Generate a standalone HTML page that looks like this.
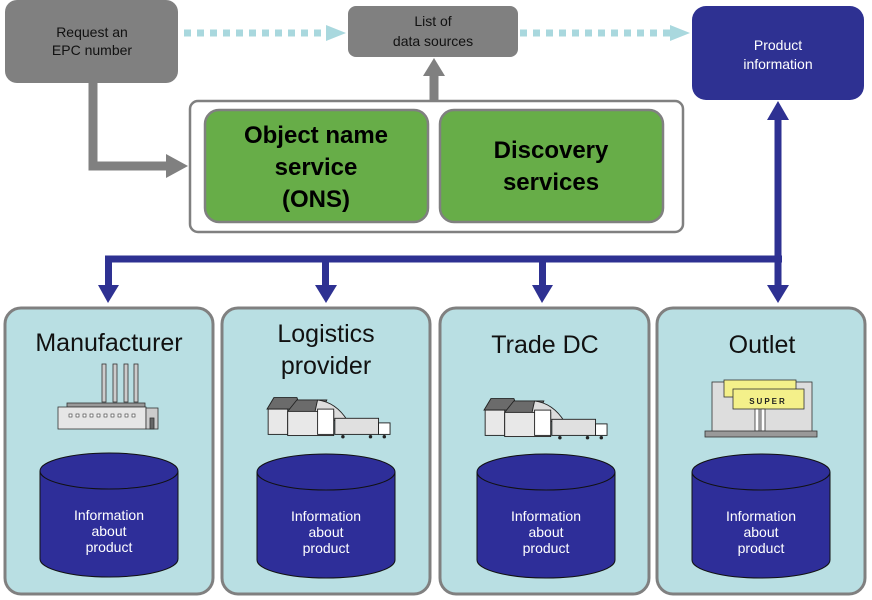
<!DOCTYPE html>
<html><head><meta charset="utf-8"><style>
html,body{margin:0;padding:0;background:#fff}
svg{display:block;font-family:"Liberation Sans",Arial,Helvetica,sans-serif}
svg text{font-family:"Liberation Sans",Arial,Helvetica,sans-serif !important}
</style></head><body>
<svg width="872" height="600" viewBox="0 0 872 600" xmlns="http://www.w3.org/2000/svg" font-family="Liberation Sans, Arial, sans-serif">
<defs>
<g id="wh">
  <polygon points="0,14 6,4 26,4 30,14" fill="#6b6b6b" stroke="#222" stroke-width="0.8"/>
  <polygon points="18,16 26,6 52,6 48,16" fill="#6b6b6b" stroke="#222" stroke-width="0.8"/>
  <path d="M44,6 Q60,8 70,24 L40,24 Z" fill="#ddd" stroke="#222" stroke-width="0.8"/>
  <rect x="1" y="14" width="17" height="22" fill="#e8e8e8" stroke="#222" stroke-width="0.8"/>
  <rect x="18" y="16" width="40" height="21" fill="#e8e8e8" stroke="#222" stroke-width="0.8"/>
  <rect x="44" y="14" width="14" height="22" fill="#fff" stroke="#222" stroke-width="0.8"/>
  <rect x="59" y="22" width="38" height="14" fill="#e0e0e0" stroke="#222" stroke-width="0.8"/>
  <rect x="97" y="26" width="10" height="10" fill="#fff" stroke="#222" stroke-width="0.8"/>
  <circle cx="66" cy="38" r="1.5" fill="#222"/><circle cx="90" cy="38" r="1.5" fill="#222"/><circle cx="102" cy="38" r="1.5" fill="#222"/>
</g>
<g id="cyl">
  <path d="M0,18 L0,106 A69,18 0 0 0 138,106 L138,18" fill="#2e2e99" stroke="#111" stroke-width="1"/>
  <ellipse cx="69" cy="18" rx="69" ry="18" fill="#2e2e99" stroke="#111" stroke-width="1"/>
  <text x="69" y="67" font-size="14" fill="#fff" text-anchor="middle">Information</text>
  <text x="69" y="83" font-size="14" fill="#fff" text-anchor="middle">about</text>
  <text x="69" y="99" font-size="14" fill="#fff" text-anchor="middle">product</text>
</g>
</defs>

<rect x="5" y="0" width="173" height="83" rx="12" fill="#808080"/>
<text x="92" y="37" font-size="14" fill="#111" text-anchor="middle">Request an</text>
<text x="92" y="55" font-size="14" fill="#111" text-anchor="middle">EPC number</text>

<rect x="348" y="6" width="170" height="51" rx="8" fill="#808080"/>
<text x="433" y="26" font-size="14" fill="#111" text-anchor="middle">List of</text>
<text x="433" y="46" font-size="14" fill="#111" text-anchor="middle">data sources</text>

<rect x="692" y="6" width="172" height="94" rx="14" fill="#2e3192"/>
<text x="778" y="50" font-size="14" fill="#fff" text-anchor="middle">Product</text>
<text x="778" y="69" font-size="14" fill="#fff" text-anchor="middle">information</text>

<line x1="184" y1="33" x2="330" y2="33" stroke="#a9d8de" stroke-width="7" stroke-dasharray="7,6"/>
<polygon points="326,25 346,33 326,41" fill="#a9d8de"/>
<line x1="520" y1="33" x2="672" y2="33" stroke="#a9d8de" stroke-width="7" stroke-dasharray="7,6"/>
<polygon points="670,25 690,33 670,41" fill="#a9d8de"/>

<polyline points="93,83 93,166 170,166" fill="none" stroke="#808080" stroke-width="9"/>
<polygon points="166,154 188,166 166,178" fill="#808080"/>
<line x1="434" y1="100" x2="434" y2="74" stroke="#808080" stroke-width="9"/>
<polygon points="423,76 434,58 445,76" fill="#808080"/>

<rect x="190" y="101" width="493" height="131" rx="8" fill="#fff" stroke="#808080" stroke-width="2.5"/>
<rect x="205" y="110" width="223" height="112" rx="14" fill="#67ad48" stroke="#808080" stroke-width="2.5"/>
<text x="316" y="143" font-size="24" font-weight="bold" fill="#000" text-anchor="middle">Object name</text>
<text x="316" y="175" font-size="24" font-weight="bold" fill="#000" text-anchor="middle">service</text>
<text x="316" y="207" font-size="24" font-weight="bold" fill="#000" text-anchor="middle">(ONS)</text>
<rect x="440" y="110" width="223" height="112" rx="14" fill="#67ad48" stroke="#808080" stroke-width="2.5"/>
<text x="551" y="158" font-size="24" font-weight="bold" fill="#000" text-anchor="middle">Discovery</text>
<text x="551" y="190" font-size="24" font-weight="bold" fill="#000" text-anchor="middle">services</text>

<line x1="105" y1="259" x2="782" y2="259" stroke="#2e3192" stroke-width="7"/>
<line x1="778" y1="118" x2="778" y2="285" stroke="#2e3192" stroke-width="7"/>
<polygon points="767,120 778,101 789,120" fill="#2e3192"/>
<g fill="#2e3192">
  <rect x="105" y="259" width="7" height="28"/><polygon points="98,285 108,303 119,285"/>
  <rect x="322" y="259" width="7" height="28"/><polygon points="315,285 326,303 337,285"/>
  <rect x="539" y="259" width="7" height="28"/><polygon points="532,285 542,303 553,285"/>
  <polygon points="767,285 778,303 789,285"/>
</g>

<g fill="#b9dfe3" stroke="#808080" stroke-width="3">
  <rect x="5" y="308" width="208" height="286" rx="16"/>
  <rect x="222" y="308" width="208" height="286" rx="16"/>
  <rect x="440" y="308" width="209" height="286" rx="16"/>
  <rect x="657" y="308" width="208" height="286" rx="16"/>
</g>
<text x="109" y="351" font-size="25" fill="#111" text-anchor="middle">Manufacturer</text>
<text x="326" y="342" font-size="25" fill="#111" text-anchor="middle">Logistics</text>
<text x="326" y="374" font-size="25" fill="#111" text-anchor="middle">provider</text>
<text x="545" y="353" font-size="25" fill="#111" text-anchor="middle">Trade DC</text>
<text x="762" y="353" font-size="25" fill="#111" text-anchor="middle">Outlet</text>

<g stroke="#333" stroke-width="0.8">
  <rect x="102" y="364" width="4" height="38" fill="#ccc"/>
  <rect x="113" y="364" width="4" height="38" fill="#ccc"/>
  <rect x="124" y="364" width="4" height="38" fill="#ccc"/>
  <rect x="134" y="364" width="4" height="38" fill="#ccc"/>
  <rect x="67" y="403" width="78" height="4" fill="#999"/>
  <rect x="58" y="407" width="88" height="22" fill="#e6e6e6"/>
  <rect x="146" y="408" width="12" height="21" fill="#ccc"/>
  <rect x="150" y="418" width="4" height="11" fill="#666"/>
</g>
<g fill="#fff" stroke="#333" stroke-width="0.6">
  <rect x="69" y="414" width="3" height="3"/><rect x="76" y="414" width="3" height="3"/><rect x="83" y="414" width="3" height="3"/><rect x="90" y="414" width="3" height="3"/><rect x="97" y="414" width="3" height="3"/><rect x="104" y="414" width="3" height="3"/><rect x="111" y="414" width="3" height="3"/><rect x="118" y="414" width="3" height="3"/><rect x="125" y="414" width="3" height="3"/><rect x="132" y="414" width="3" height="3"/>
</g>

<use href="#wh" transform="translate(267,393) scale(1.15)"/>
<use href="#wh" transform="translate(484,394) scale(1.15)"/>

<g stroke="#333" stroke-width="0.8">
  <rect x="712" y="382" width="100" height="50" fill="#ddd"/>
  <rect x="724" y="380" width="72" height="17" fill="#f4f08a"/>
  <rect x="733" y="389" width="71" height="20" fill="#f4f08a"/>
  <rect x="755" y="409" width="4" height="22" fill="#fff"/><rect x="761" y="409" width="4" height="22" fill="#fff"/>
  <rect x="705" y="431" width="112" height="6" fill="#999"/>
</g>
<text x="768" y="404" font-size="8" font-weight="bold" fill="#222" text-anchor="middle" letter-spacing="2">SUPER</text>

<use href="#cyl" x="40" y="453"/>
<use href="#cyl" x="257" y="454"/>
<use href="#cyl" x="477" y="454"/>
<use href="#cyl" x="692" y="454"/>
</svg>
</body></html>
